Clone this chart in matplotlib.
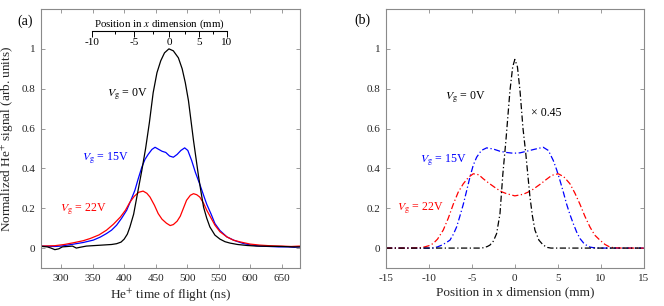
import numpy as np
import matplotlib
matplotlib.use('Agg')
import matplotlib.pyplot as plt

plt.rcParams['font.family'] = ['Liberation Serif', 'DejaVu Serif']
plt.rcParams['mathtext.fontset'] = 'stix'
plt.rcParams['axes.unicode_minus'] = False

# %% Data, panel (a): measured He+ time of flight spectra
tof_0V = [270, 278, 284, 290, 296, 302, 310, 318, 324, 330, 340, 350, 360, 370, 380, 388, 395, 400,
          405, 409, 415, 420, 428, 434, 440, 446, 452, 458, 464, 471, 478, 486, 492, 497, 502, 506,
          510, 514, 518, 522, 526, 531, 536, 544, 552, 560, 568, 580, 595, 610, 630, 650, 668, 678]
sig_0V = [0.008, 0.006, 0.0, -0.008, -0.004, 0.006, 0.008, 0.01, 0.0, 0.004, 0.01, 0.012, 0.014, 0.016,
          0.018, 0.022, 0.03, 0.045, 0.07, 0.105, 0.17, 0.255, 0.39, 0.5, 0.63, 0.78, 0.88, 0.94, 0.98,
          1.0, 0.99, 0.955, 0.9, 0.83, 0.74, 0.64, 0.54, 0.45, 0.36, 0.28, 0.205, 0.15, 0.106, 0.065,
          0.045, 0.032, 0.025, 0.018, 0.013, 0.01, 0.009, 0.008, 0.006, 0.006]

tof_15V = [270, 290, 300, 320, 335, 351, 362, 372, 380, 388, 396, 404, 410, 417, 422, 428, 433, 438,
           444, 449, 455, 460, 466, 472, 478, 484, 490, 496, 501, 507, 513, 520, 526, 531, 538, 544,
           552, 563, 575, 589, 600, 615, 630, 645, 660, 670, 678]
sig_15V = [0.01, 0.008, 0.01, 0.02, 0.028, 0.04, 0.055, 0.073, 0.09, 0.115, 0.15, 0.19, 0.235, 0.29,
           0.345, 0.406, 0.445, 0.47, 0.495, 0.506, 0.495, 0.486, 0.48, 0.462, 0.456, 0.47, 0.49, 0.503,
           0.49, 0.44, 0.38, 0.32, 0.265, 0.22, 0.17, 0.123, 0.088, 0.056, 0.038, 0.023, 0.016, 0.01,
           0.008, 0.006, 0.006, 0.004, 0.006]

tof_22V = [270, 290, 305, 320, 335, 346, 360, 372, 383, 394, 402, 409, 416, 423, 430, 436, 441, 448,
           454, 460, 467, 473, 478, 484, 489, 494, 499, 505, 510, 515, 520, 526, 531, 538, 544, 552,
           563, 573, 584, 600, 615, 630, 650, 665, 678]
sig_22V = [0.01, 0.012, 0.018, 0.027, 0.037, 0.048, 0.066, 0.09, 0.12, 0.156, 0.19, 0.23, 0.26, 0.28,
           0.286, 0.275, 0.256, 0.215, 0.173, 0.145, 0.125, 0.113, 0.118, 0.135, 0.16, 0.2, 0.24,
           0.265, 0.273, 0.268, 0.256, 0.225, 0.19, 0.15, 0.115, 0.082, 0.056, 0.04, 0.031, 0.02,
           0.015, 0.012, 0.01, 0.008, 0.01]

# calibration of the position axis drawn inside panel (a)
pos_knots = [-40, -10, -7.5, -5, -2.5, 0, 2.5, 5, 7.5, 10, 40]
tof_knots = [100, 349.6, 385.6, 416.2, 445.4, 471.7, 496.6, 519.3, 541.5, 562.8, 900]

# %% Data, panel (b): simulated profiles
x_0V = [-15, -4.0, -3.6, -3.2, -2.9, -2.5, -2.12, -1.73, -1.4, -1.04, -0.57, -0.25, 0, 0.3, 0.6,
        0.95, 1.26, 1.55, 1.76, 2.05, 2.34, 2.8, 3.3, 3.8, 4.2, 15]
p_0V = [0, 0, 0.002, 0.008, 0.015, 0.035, 0.073, 0.173, 0.37, 0.54, 0.79, 0.91, 0.947, 0.91, 0.79,
        0.6, 0.48, 0.35, 0.256, 0.16, 0.09, 0.04, 0.015, 0.003, 0, 0]

x_15V = [-15, -10, -9.5, -9, -8.5, -8.0, -7.55, -7.15, -6.78, -6.4, -6.0, -5.6, -5.23, -4.85, -4.45,
         -3.9, -3.28, -2.5, -1.73, -1, -0.19, 0.6, 1.37, 2.3, 3.3, 3.9, 4.47, 4.85, 5.25, 5.65, 6.03,
         6.4, 6.8, 7.2, 7.58, 8.1, 8.74, 9.3, 10, 15]
p_15V = [0, 0, 0.001, 0.006, 0.015, 0.027, 0.04, 0.07, 0.106, 0.16, 0.22, 0.29, 0.356, 0.415, 0.456,
         0.49, 0.503, 0.497, 0.486, 0.48, 0.476, 0.478, 0.486, 0.496, 0.506, 0.49, 0.44, 0.395, 0.34,
         0.28, 0.22, 0.17, 0.123, 0.08, 0.048, 0.02, 0.005, 0.001, 0, 0]

x_22V = [-15, -12, -11, -10.5, -10, -9.5, -9, -8.34, -7.75, -7.17, -6.6, -6.0, -5.4, -4.84, -4.2,
         -3.68, -3, -2.12, -1.5, -0.96, 0, 0.96, 1.5, 2.12, 3, 3.68, 4.3, 5.05, 5.7, 6.41, 7.0, 7.58,
         8.15, 8.74, 9.3, 9.9, 10.5, 11.07, 11.7, 12.5, 15]
p_22V = [0, 0, 0.002, 0.006, 0.012, 0.023, 0.045, 0.09, 0.15, 0.22, 0.28, 0.323, 0.355, 0.373, 0.368,
         0.348, 0.325, 0.298, 0.282, 0.273, 0.262, 0.27, 0.28, 0.295, 0.322, 0.345, 0.365, 0.373,
         0.358, 0.323, 0.275, 0.22, 0.16, 0.106, 0.065, 0.04, 0.018, 0.005, 0.001, 0, 0]

blue = '#0000ff'
red = '#ff0000'
spine_col = '#8a8a8a'
text_col = '#262626'


def style_axes(ax):
    for s in ax.spines.values():
        s.set_color(spine_col)
        s.set_linewidth(0.8)
    ax.tick_params(direction='in', top=True, right=True, length=3, width=0.6,
                   color=spine_col, labelcolor=text_col, labelsize=8, pad=4)


fig = plt.figure(figsize=(6.64, 3.06), dpi=100)
ax1 = fig.add_axes([41 / 664, 1 - 268 / 306, 259 / 664, 259 / 306])
ax2 = fig.add_axes([386 / 664, 1 - 268 / 306, 257.7 / 664, 259 / 306])

# %% Panel (a)
ax1.plot(tof_15V, sig_15V, color=blue, lw=0.9)
ax1.plot(tof_22V, sig_22V, color=red, lw=0.9)
ax1.plot(tof_0V, sig_0V, color='black', lw=0.9)
ax1.set_xlim(268, 679)
ax1.set_ylim(-0.1, 1.2)
ax1.set_xticks(np.arange(300, 651, 50))
ax1.set_yticks([0, 0.2, 0.4, 0.6, 0.8, 1])
ax1.set_yticklabels(['0', '0.2', '0.4', '0.6', '0.8', '1'])
style_axes(ax1)
ax1.set_xlabel('He$^{+}$ time of flight (ns)', fontsize=9.5, color=text_col, labelpad=3)
ax1.set_ylabel('Normalized He$^{+}$ signal (arb. units)', fontsize=9.5, color=text_col, labelpad=4)
ax1.text(-0.062, 0.954, '(a)', transform=ax1.transAxes, fontsize=10, ha='center', va='center')
ax1.text(373, 0.77, '$V_\\mathrm{g}$ = 0V', fontsize=8.6, color='black', va='center')
ax1.text(333, 0.45, '$V_\\mathrm{g}$ = 15V', fontsize=8.6, color=blue, va='center')
ax1.text(298, 0.195, '$V_\\mathrm{g}$ = 22V', fontsize=8.6, color=red, va='center')

# position axis drawn inside panel (a)
pos_axis = ax1.inset_axes([tof_knots[1], 1.088, tof_knots[-2] - tof_knots[1], 1e-6],
                          transform=ax1.transData)
pos_axis.set_xscale('function', functions=(lambda p: np.interp(p, pos_knots, tof_knots),
                                            lambda t: np.interp(t, tof_knots, pos_knots)))
pos_axis.set_xlim(-10, 10)
pos_axis.patch.set_visible(False)
for side in ['top', 'left', 'right']:
    pos_axis.spines[side].set_visible(False)
pos_axis.spines['bottom'].set_linewidth(0.8)
pos_axis.set_yticks([])
pos_axis.set_xticks([-10, -5, 0, 5, 10])
pos_axis.set_xticklabels(['-10', '-5', '0', '5', '10'])
pos_axis.set_xticks([-7.5, -2.5, 2.5, 7.5], minor=True)
pos_axis.tick_params(axis='x', which='major', direction='out', length=4, width=0.7, labelsize=8, pad=1)
pos_axis.tick_params(axis='x', which='minor', direction='out', length=2, width=0.7)
pos_axis.xaxis.set_label_position('top')
pos_axis.set_xlabel('Position in $x$ dimension (mm)', fontsize=7.8, labelpad=3)

# %% Panel (b)
dashdot = (0, (5, 2, 1, 2))
ax2.plot(x_15V, p_15V, color=blue, lw=0.9, ls=dashdot)
ax2.plot(x_22V, p_22V, color=red, lw=0.9, ls=dashdot)
ax2.plot(x_0V, p_0V, color='black', lw=0.9, ls=dashdot)
ax2.set_xlim(-15, 15)
ax2.set_ylim(-0.1, 1.2)
ax2.set_xticks(np.arange(-15, 16, 5))
ax2.set_yticks([0, 0.2, 0.4, 0.6, 0.8, 1])
ax2.set_yticklabels(['0', '0.2', '0.4', '0.6', '0.8', '1'])
style_axes(ax2)
ax2.set_xlabel('Position in x dimension (mm)', fontsize=9.5, color=text_col, labelpad=3)
ax2.text(-0.093, 0.957, '(b)', transform=ax2.transAxes, fontsize=10, ha='center', va='center')
ax2.text(-8.1, 0.755, '$V_\\mathrm{g}$ = 0V', fontsize=8.6, color='black', va='center')
ax2.text(1.9, 0.68, '× 0.45', fontsize=8.6, color='black', va='center')
ax2.text(-11.05, 0.44, '$V_\\mathrm{g}$ = 15V', fontsize=8.6, color=blue, va='center')
ax2.text(-13.7, 0.2, '$V_\\mathrm{g}$ = 22V', fontsize=8.6, color=red, va='center')

fig.savefig('out.png', dpi=100)
